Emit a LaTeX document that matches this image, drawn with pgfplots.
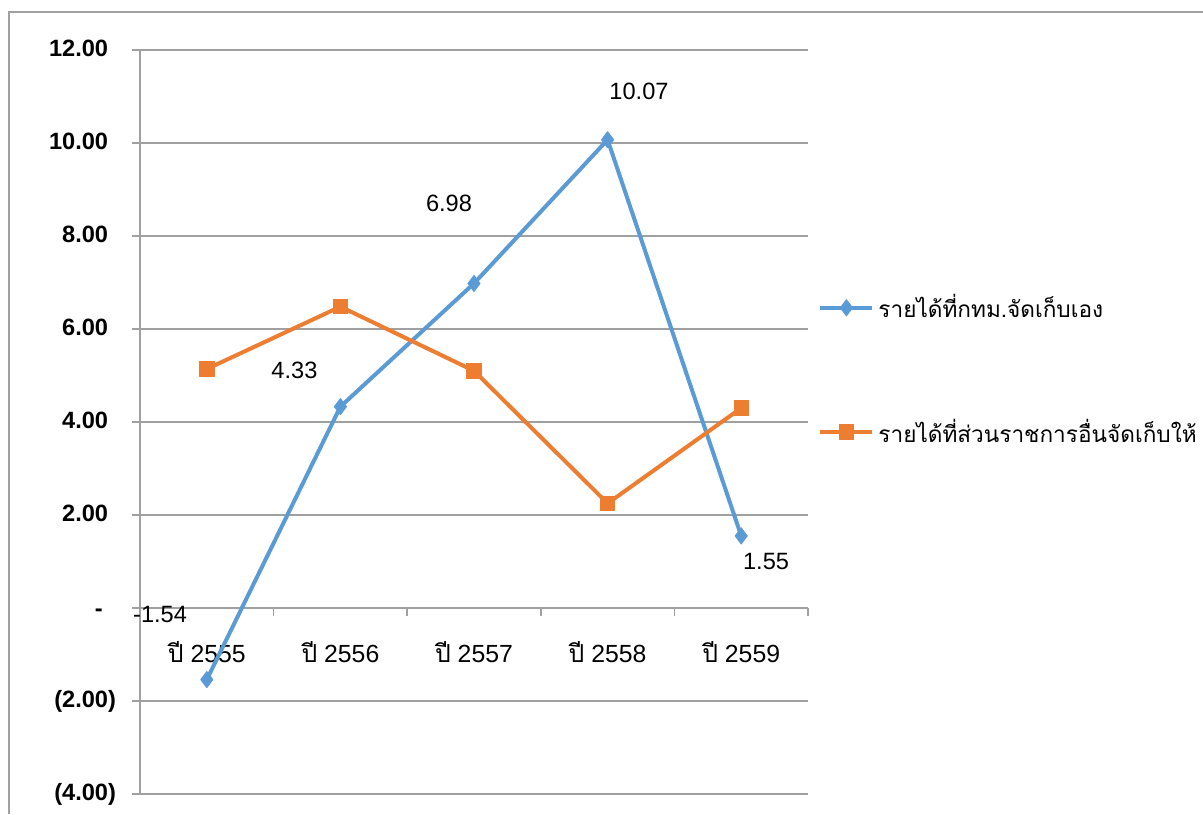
\documentclass[border=0pt]{standalone}
\usepackage{fontspec}
\setmainfont{Liberation Sans}
\newfontfamily\thai[Script=Thai]{Loma}
\usepackage{pgfplots}
\pgfplotsset{compat=1.18}
\definecolor{sblue}{HTML}{5B9BD5}
\definecolor{sorange}{HTML}{ED7D31}
\definecolor{gridc}{HTML}{A0A0A0}
\newcommand{\fs}{\fontsize{11.8pt}{14pt}\selectfont}
\newcommand{\fl}{\fontsize{11.3pt}{14pt}\selectfont}
\newcommand{\fx}{\fontsize{12.4pt}{14pt}\selectfont}
\newcommand{\p}{\phantom{)}}
\begin{document}
\begin{tikzpicture}
\path[use as bounding box] (0,0) rectangle (601.5pt,407pt);
\draw[gridc, line width=0.8pt] (4.5pt,0) -- (4.5pt,401pt) -- (601.5pt,401pt);
\begin{axis}[
  at={(70pt,10pt)}, anchor=south west,
  scale only axis, width=334pt, height=372pt,
  xmin=-0.5, xmax=4.5, ymin=-4, ymax=12,
  axis y line=left, axis x line=middle,
  axis line style={-, draw=gridc, line width=0.75pt},
  ytick={-4,-2,...,12},
  yticklabels={(4.00),(2.00),-\phantom{0},2.00\p,4.00\p,6.00\p,8.00\p,10.00\p,12.00\p},
  ymajorgrids, grid style={gridc, line width=0.75pt},
  xtick={0,...,4},
  xticklabels={{\thai ปี} 2555,{\thai ปี} 2556,{\thai ปี} 2557,{\thai ปี} 2558,{\thai ปี} 2559},
  minor xtick={-0.5,0.5,...,4.5},
  tick align=outside, major tick length=4pt, minor tick length=4pt,
  major x tick style={draw=none},
  minor x tick style={draw=gridc, line width=0.75pt},
  major y tick style={draw=gridc, line width=0.75pt},
  yticklabel style={font=\fs\bfseries, anchor=east, xshift=-4.5pt},
  xticklabel style={font=\fx, yshift=-9pt},
  clip=false,
  legend style={at={(1.015,0.57)}, anchor=west, draw=none, fill=none,
    font=\fl, row sep=45pt, inner sep=0pt, cells={anchor=west}},
  legend image code/.code={\draw[mark repeat=2,mark phase=2,#1] plot coordinates {(0pt,0pt)(13pt,0pt)(26pt,0pt)};},
]
\addplot[color=sblue, line width=2pt, line join=round, mark=diamond*, mark size=4pt, mark options={solid, fill=sblue, line width=0.5pt}]
  coordinates {(0,-1.54)(1,4.33)(2,6.98)(3,10.07)(4,1.55)};
\addlegendentry{\thai รายได้ที่กทม.จัดเก็บเอง}
\addplot[color=sorange, line width=2pt, line join=round, mark=square*, mark size=3.6pt, mark options={solid, fill=sorange, line width=0.5pt}]
  coordinates {(0,5.14)(1,6.48)(2,5.10)(3,2.25)(4,4.30)};
\addlegendentry{\thai รายได้ที่ส่วนราชการอื่นจัดเก็บให้}
\node[font=\fs] at (axis cs:-0.35,-0.15) {-1.54};
\node[font=\fs] at (axis cs:0.656,5.12) {4.33};
\node[font=\fs] at (axis cs:1.813,8.71) {6.98};
\node[font=\fs] at (axis cs:3.235,11.10) {10.07};
\node[font=\fs] at (axis cs:4.186,0.99) {1.55};
\end{axis}
\end{tikzpicture}
\end{document}
